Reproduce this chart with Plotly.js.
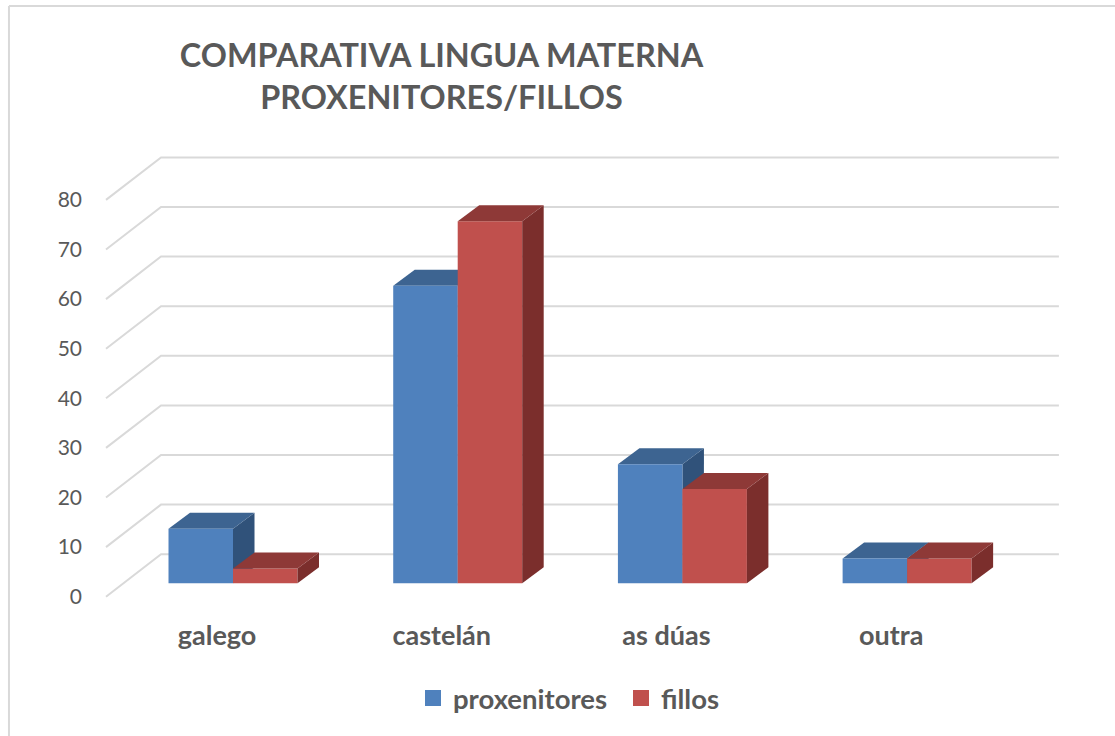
<!DOCTYPE html>
<html>
<head>
<meta charset="utf-8">
<script src="https://cdn.plot.ly/plotly-3.0.1.min.js"></script>
<style>html,body{margin:0;padding:0;background:#fff}</style>
</head>
<body>
<div id="chart" style="width:1115px;height:736px"></div>
<script>
var categories = ["galego", "castelán", "as dúas", "outra"];
var proxenitores = [11, 60, 24, 5];
var fillos = [3, 73, 19, 5];
var yTicks = [0, 10, 20, 30, 40, 50, 60, 70, 80];

// Pseudo-3D projection, in axis units (one x unit = one category step, y unit = one value)
var barW = 0.287, labelShift = -0.071;
var barDX = 0.0957, barDY = 3.226;
var wallDX = 0.2448, wallDY = 8.57;
var floorDrop = -2.7, wallLeft = -0.5652, wallRight = 3.6755;
var xRange = [-0.6453, 3.8584], yRange = [-5.38, 91.39];

function polyTrace(xs, ys, color, axes) {
  return {type: "scatter", mode: "lines", x: xs, y: ys, fill: "toself", fillcolor: color,
    line: {width: 0}, showlegend: false, hoverinfo: "skip", xaxis: axes[0], yaxis: axes[1]};
}
function topFace(x0, v, c, axes) {
  return polyTrace([x0, x0 + barDX, x0 + barW + barDX, x0 + barW, x0],
                   [v, v + barDY, v + barDY, v, v], c, axes);
}
function sideFace(x0, v, c, axes) {
  var x1 = x0 + barW;
  return polyTrace([x1, x1 + barDX, x1 + barDX, x1, x1],
                   [0, barDY, v + barDY, v, 0], c, axes);
}

var gx = [], gy = [];
yTicks.forEach(function (t) {
  gx.push(wallLeft, wallLeft + wallDX, wallRight, null);
  gy.push(t + floorDrop, t + floorDrop + wallDY, t + floorDrop + wallDY, null);
});

var idx = categories.map(function (c, i) { return i; });
var traces = [{type: "scatter", mode: "lines", x: gx, y: gy, line: {color: "#d9d9d9", width: 2},
  showlegend: false, hoverinfo: "skip", xaxis: "x", yaxis: "y"}];

idx.forEach(function (i) {
  traces.push(sideFace(i - barW, proxenitores[i], "#30527a", ["x", "y"]));
  traces.push(topFace(i - barW, proxenitores[i], "#3d6491", ["x", "y"]));
});
traces.push({type: "bar", name: "proxenitores", x: idx.map(function (i) { return i - barW / 2; }), y: proxenitores,
  width: barW, marker: {color: "#4f81bd"}, showlegend: false, xaxis: "x2", yaxis: "y2"});
traces.push({type: "bar", name: "fillos", x: idx.map(function (i) { return i + barW / 2; }), y: fillos,
  width: barW, marker: {color: "#c0504d"}, showlegend: false, xaxis: "x2", yaxis: "y2"});
idx.forEach(function (i) {
  traces.push(sideFace(i, fillos[i], "#7b2e2c", ["x2", "y2"]));
  traces.push(topFace(i, fillos[i], "#8e3937", ["x2", "y2"]));
});
traces.push({type: "scatter", mode: "markers", name: "proxenitores", x: [null], y: [null],
  marker: {symbol: "square", size: 16, color: "#4f81bd"}, xaxis: "x", yaxis: "y"});
traces.push({type: "scatter", mode: "markers", name: "fillos", x: [null], y: [null],
  marker: {symbol: "square", size: 16, color: "#c0504d"}, xaxis: "x", yaxis: "y"});

var fontFam = "Lato, 'Open Sans', sans-serif";
var layout = {
  width: 1115, height: 736,
  paper_bgcolor: "#fff", plot_bgcolor: "rgba(0,0,0,0)",
  margin: {l: 88, r: 15, t: 130, b: 126},
  barmode: "overlay",
  title: {text: "COMPARATIVA LINGUA MATERNA<br>PROXENITORES/FILLOS",
    font: {family: fontFam, size: 32.4, color: "#595959", weight: 700},
    x: 441.5 / 1115, xref: "container", xanchor: "center", y: 1 - 66.5 / 736, yref: "container", yanchor: "top"},
  xaxis: {range: xRange, tickvals: idx.map(function (i) { return i + labelShift; }), ticktext: categories,
    showgrid: false, zeroline: false, showline: false, ticks: "", ticklabelstandoff: 7,
    tickfont: {family: fontFam, size: 27, color: "#595959", weight: 700}},
  yaxis: {range: yRange, tickvals: yTicks.map(function (t) { return t + floorDrop; }), ticktext: yTicks.map(String),
    showgrid: false, zeroline: false, showline: false, ticks: "", ticklabelstandoff: 5,
    tickfont: {family: fontFam, size: 21, color: "#595959"}},
  xaxis2: {range: xRange, overlaying: "x", visible: false},
  yaxis2: {range: yRange, overlaying: "y", visible: false},
  legend: {orientation: "h", x: 413 / 1115, xref: "container", y: 1 - 698 / 736, yref: "container",
    xanchor: "left", yanchor: "middle",
    font: {family: fontFam, size: 27.5, color: "#595959", weight: 700}, bgcolor: "rgba(0,0,0,0)",
    entrywidthmode: "pixels", entrywidth: 163},
  showlegend: true,
  shapes: [
    {type: "line", xref: "paper", yref: "paper", x0: -0.0781, x1: -0.0781, y0: -0.2625, y1: 1.2583, line: {color: "#d9d9d9", width: 2}},
    {type: "line", xref: "paper", yref: "paper", x0: -0.0781, x1: 1.0148, y0: 1.2583, y1: 1.2583, line: {color: "#d9d9d9", width: 2}}
  ]
};
Plotly.newPlot("chart", traces, layout, {displayModeBar: false});
</script>
</body>
</html>
